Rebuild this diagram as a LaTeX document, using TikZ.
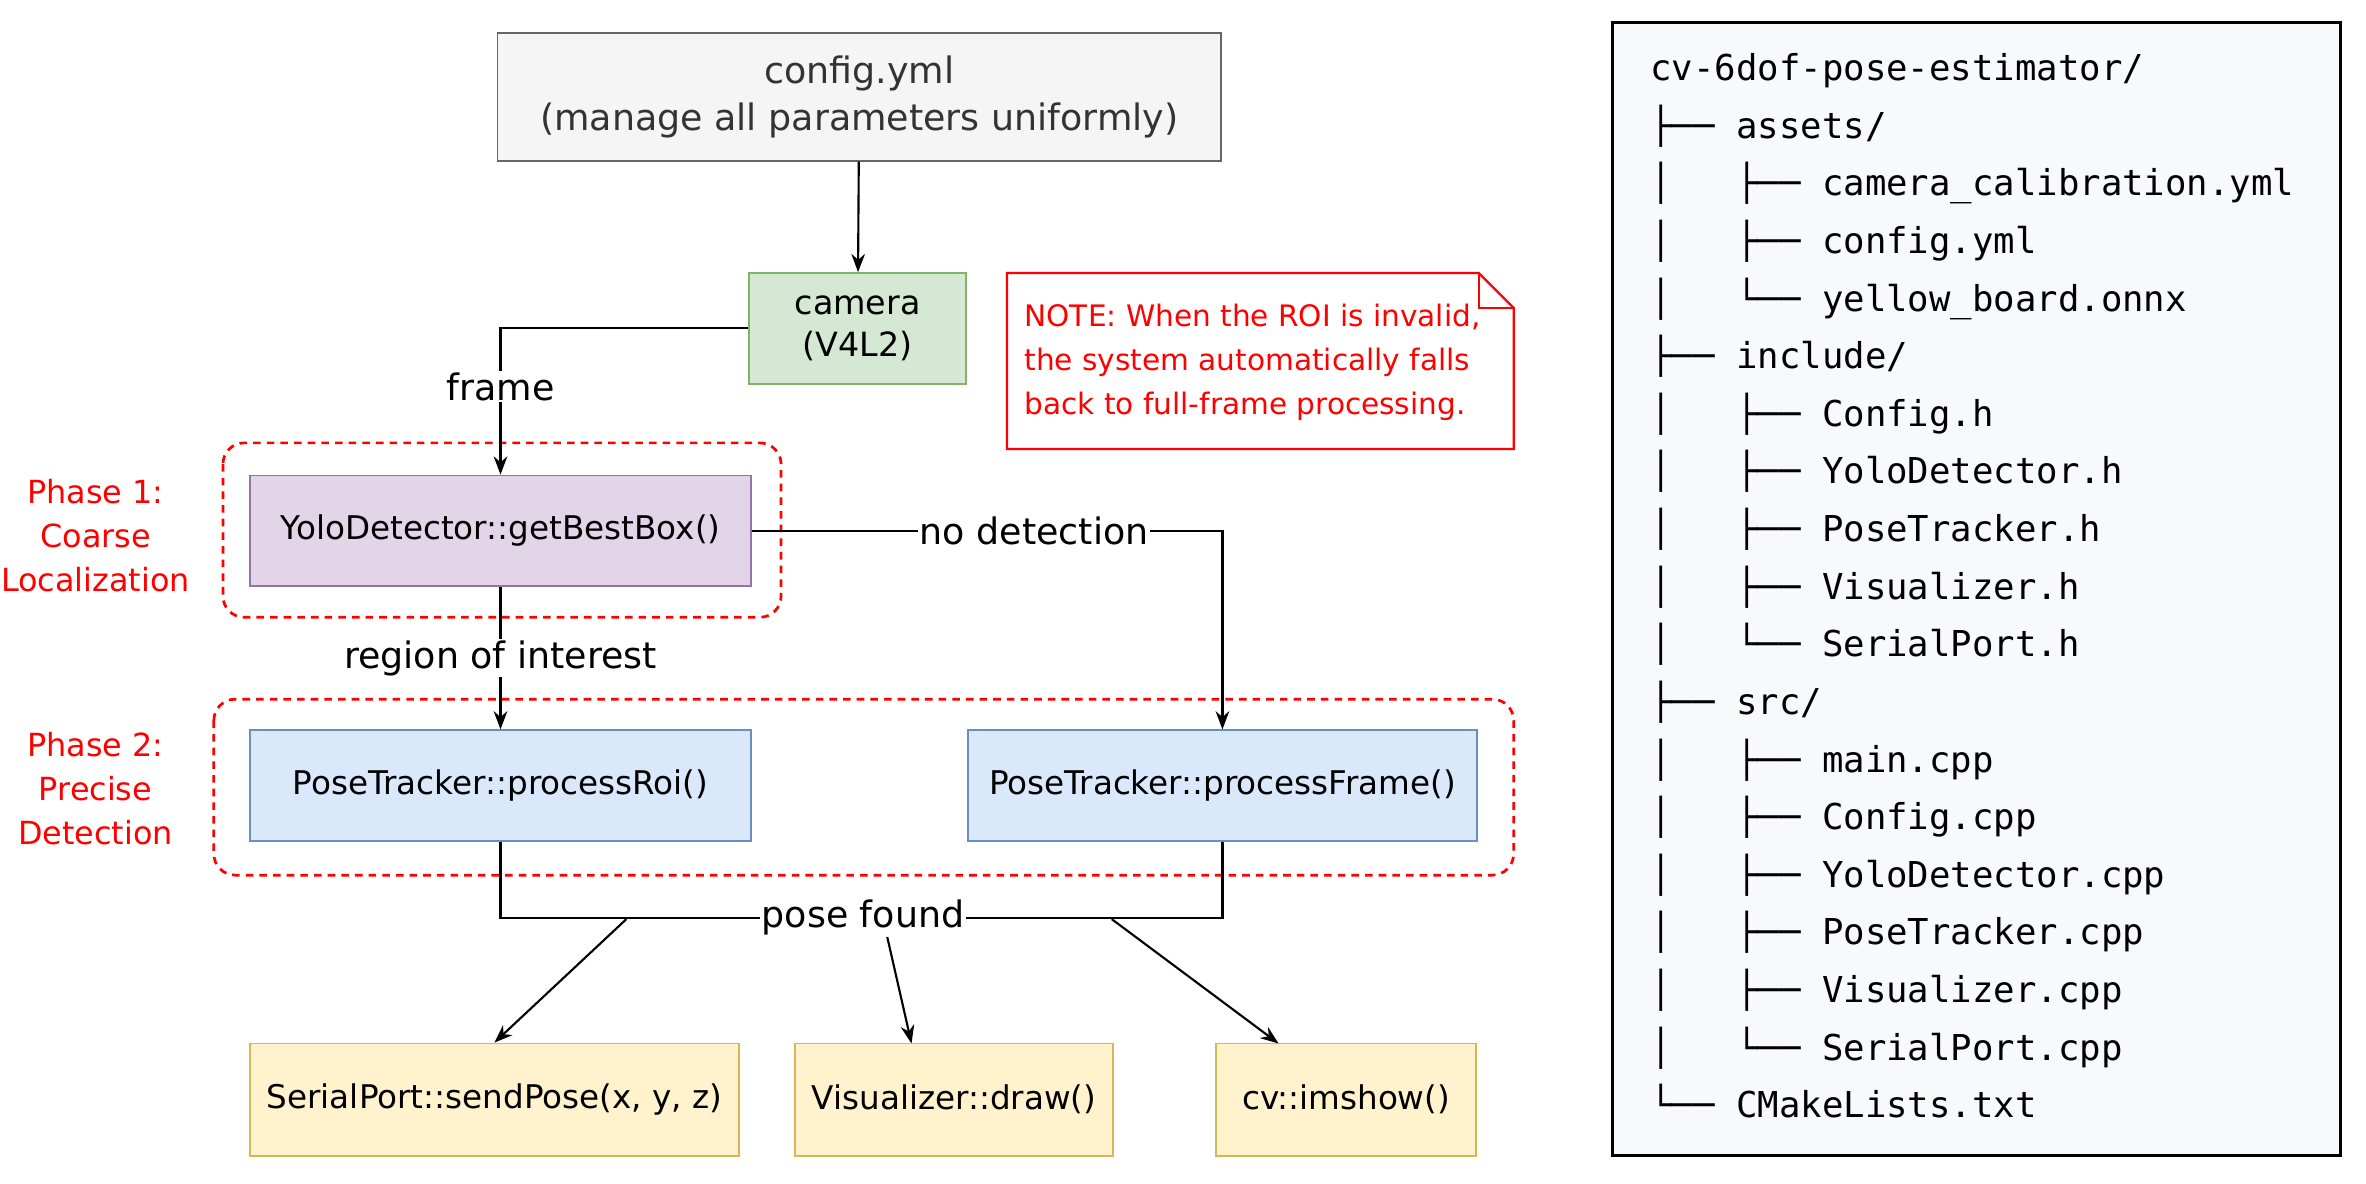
\documentclass[tikz,border=0pt]{standalone}
\usepackage{fontspec}
\setmainfont{DejaVu Sans}
\newfontfamily\treefont{DejaVu Sans Mono}
\usetikzlibrary{arrows.meta}
\definecolor{cfgF}{HTML}{F5F5F5}\definecolor{cfgD}{HTML}{666666}
\definecolor{grF}{HTML}{D5E8D4}\definecolor{grD}{HTML}{82B366}
\definecolor{puF}{HTML}{E1D5E7}\definecolor{puD}{HTML}{9673A6}
\definecolor{blF}{HTML}{DAE8FC}\definecolor{blD}{HTML}{6C8EBF}
\definecolor{yeF}{HTML}{FFF2CC}\definecolor{yeD}{HTML}{D6B656}
\definecolor{nred}{HTML}{FF0000}
\begin{document}
\begin{tikzpicture}[x=1pt,y=-1pt,
  box/.style={draw,line width=1.2pt,minimum height=73pt,inner sep=0pt,align=center,font=\fontsize{21.5}{27}\selectfont},
  arr/.style={-{Stealth[length=12pt,width=9pt]},line width=1.4pt},
  ln/.style={line width=1.4pt},
  lab/.style={fill=white,inner sep=1pt,font=\fontsize{24}{28}\selectfont},
  phase/.style={draw=nred,dashed,dash pattern=on 5pt off 4pt,line width=1.8pt,rounded corners=14pt},
  ptxt/.style={text=nred,align=center,font=\fontsize{21}{29}\selectfont}]
\useasboundingbox (0,0) rectangle (1560,780);
\node[box,fill=cfgF,draw=cfgD,text=black!80,minimum width=477pt,minimum height=84pt,font=\fontsize{24}{31}\selectfont] (cfg) at (566.5,64) {config.yml\\(manage all parameters uniformly)};
\node[box,fill=grF,draw=grD,minimum width=143pt,font=\fontsize{22}{28}\selectfont] (cam) at (565.5,216.5) {camera\\(V4L2)};
\node[box,fill=puF,draw=puD,minimum width=330pt] (yolo) at (330,350) {YoloDetector::getBestBox()};
\node[box,fill=blF,draw=blD,minimum width=330pt] (roi) at (330,518) {PoseTracker::processRoi()};
\node[box,fill=blF,draw=blD,minimum width=336pt] (frm) at (806,518) {PoseTracker::processFrame()};
\node[box,fill=yeF,draw=yeD,minimum width=322pt,minimum height=74pt] (sp) at (326,725) {SerialPort::sendPose(x, y, z)};
\node[box,fill=yeF,draw=yeD,minimum width=210pt,minimum height=74pt] (vis) at (629,725) {Visualizer::draw()};
\node[box,fill=yeF,draw=yeD,minimum width=171pt,minimum height=74pt] (cv) at (887.5,725) {cv::imshow()};
% phases
\draw[phase] (147,292) rectangle (515,407);
\draw[phase] (141,461) rectangle (998,577);
\node[ptxt] (p1) at (63,353) {Phase 1:\\Coarse\\Localization};
\node[ptxt] (p2) at (63,520) {Phase 2:\\Precise\\Detection};
% note
\draw[nred,line width=1.5pt,fill=white] (664,180) -- (975,180) -- (998,203) -- (998,296) -- (664,296) -- cycle;
\draw[nred,line width=1.5pt] (975,180) -- (975,203) -- (998,203);
\node[text=nred,align=left,anchor=west,font=\fontsize{19.5}{29}\selectfont] (note) at (672,239) {NOTE: When the ROI is invalid,\\the system automatically falls\\back to full-frame processing.};
% edges
\draw[arr] (cfg) -- (cam);
\draw[arr] (cam.west) -| (yolo.north) node[lab,pos=0.7] {frame};
\draw[arr] (yolo.east) -| (frm.north) node[lab,pos=0.3] {no detection};
\draw[arr] (yolo) -- (roi) node[lab,midway] {region of interest};
\coordinate (jl) at (330,605); \coordinate (jr) at (806,605);
\draw[ln] (roi.south) -- (jl) -- (jr) -- (frm.south);
\node[lab] (pf) at (569,605) {pose found};
\coordinate (a1) at (413,606); \coordinate (a3) at (733,606);
\draw[arr] (a1) -- (sp.north);
\draw[arr] (pf.south) ++(16,0) -- (601,688);
\draw[arr] (a3) -- (843,688);
% tree
\node[draw=black,line width=2pt,fill={rgb,255:red,248;green,249;blue,250},minimum width=480pt,minimum height=747pt] (tree) at (1303,388.5) {};
\node[anchor=north west,align=left,inner sep=0pt,font=\treefont\fontsize{23.5}{38}\selectfont] (tt) at (1088,35) {cv-6dof-pose-estimator/\\
├── assets/\\
│\ \ \ ├── camera\_calibration.yml\\
│\ \ \ ├── config.yml\\
│\ \ \ └── yellow\_board.onnx\\
├── include/\\
│\ \ \ ├── Config.h\\
│\ \ \ ├── YoloDetector.h\\
│\ \ \ ├── PoseTracker.h\\
│\ \ \ ├── Visualizer.h\\
│\ \ \ └── SerialPort.h\\
├── src/\\
│\ \ \ ├── main.cpp\\
│\ \ \ ├── Config.cpp\\
│\ \ \ ├── YoloDetector.cpp\\
│\ \ \ ├── PoseTracker.cpp\\
│\ \ \ ├── Visualizer.cpp\\
│\ \ \ └── SerialPort.cpp\\
└── CMakeLists.txt};
\end{tikzpicture}
\end{document}
